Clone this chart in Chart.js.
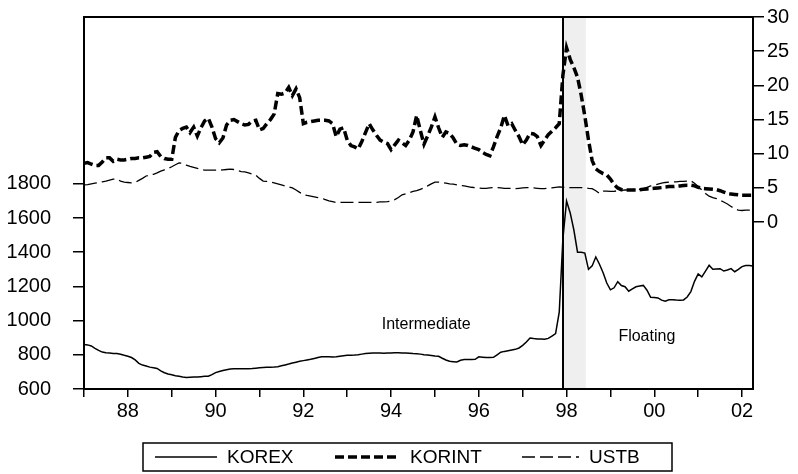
<!DOCTYPE html>
<html lang="en">
<head>
<meta charset="UTF-8">
<title>KOREX, KORINT and USTB</title>
<script src="https://cdn.jsdelivr.net/npm/chart.js"></script>
<style>
  html, body { margin: 0; padding: 0; background: #fff; }
  #wrap { width: 798px; height: 474px; }
</style>
</head>
<body>
<div id="wrap"><canvas id="chart" width="798" height="474"></canvas></div>
<script>
// monthly observations, 1987:01 to 2002:04
const startYear = 1987;

// won per dollar (left axis)
const korex = [
  860, 858, 852, 838, 826, 816, 812, 810, 808, 807, 803, 797,
  792, 784, 770, 750, 740, 734, 728, 724, 720, 706, 695, 688,
  683, 678, 674, 670, 668, 669, 670, 670, 672, 674, 675, 684,
  696, 702, 708, 713, 717, 719, 719, 719, 719, 719, 720, 722,
  724, 726, 727, 727, 728, 730, 736, 741, 746, 752, 757, 762,
  766, 770, 774, 779, 784, 789, 789, 788, 787, 788, 792, 795,
  797, 798, 799, 801, 804, 807, 809, 811, 810, 810, 809, 810,
  811, 812, 812, 811, 810, 809, 807, 806, 804, 801, 799, 796,
  793, 791, 780, 770, 762, 760, 758, 768, 772, 772, 773, 774,
  788, 786, 784, 784, 785, 800, 815, 820, 824, 828, 832, 840,
  855, 875, 898, 895, 893, 892, 891, 896, 910, 924, 1050, 1480,
  1700, 1630, 1530, 1400, 1400, 1395, 1300, 1320, 1372, 1330, 1280, 1220,
  1180, 1192, 1228, 1205, 1198, 1172, 1186, 1198, 1202, 1206, 1178, 1136,
  1135, 1133, 1120, 1113, 1122, 1122, 1120, 1119, 1121, 1138, 1170, 1230,
  1273, 1256, 1290, 1324, 1300, 1302, 1304, 1290, 1296, 1304, 1286, 1300,
  1316, 1322, 1322, 1320
];

// Korean interest rate, % (right axis)
const korint = [
  8.6, 8.7, 8.5, 8.3, 8.3, 8.8, 9.4, 9.4, 8.9, 9.2, 9.1, 9.1,
  9.2, 9.3, 9.3, 9.4, 9.4, 9.5, 9.6, 10.2, 10.3, 9.6, 9.3, 9.2,
  9.2, 12.4, 13.4, 13.7, 13.9, 13.1, 13.9, 12.6, 13.8, 14.8, 15.2, 13.9,
  12.2, 11.6, 12.3, 14.2, 14.9, 15.0, 14.7, 14.4, 14.2, 14.3, 14.8, 14.9,
  13.5, 13.7, 14.4, 15.0, 15.8, 18.8, 18.7, 18.9, 19.7, 18.5, 19.5, 18.2,
  14.4, 14.6, 14.7, 14.8, 14.9, 14.9, 14.9, 14.8, 14.4, 12.5, 13.6, 13.8,
  12.0, 11.2, 11.0, 10.7, 11.8, 13.1, 14.4, 13.5, 12.7, 12.0, 11.7, 11.5,
  10.6, 11.3, 12.0, 11.6, 11.2, 12.0, 13.2, 15.6, 13.4, 11.4, 12.6, 13.9,
  15.4, 13.8, 12.4, 13.2, 13.0, 12.3, 11.4, 11.2, 11.3, 11.2, 11.0, 10.8,
  10.6, 10.2, 9.9, 9.7, 11.0, 12.5, 13.8, 15.6, 14.1, 14.4, 13.4, 12.5,
  11.3, 12.0, 13.0, 12.9, 12.5, 11.2, 12.0, 12.8, 13.3, 13.8, 14.4, 21.5,
  25.5, 23.8, 22.6, 21.2, 18.6, 15.5, 12.0, 9.0, 7.8, 7.4, 7.1, 6.9,
  6.3, 5.5, 5.0, 4.75, 4.7, 4.7, 4.7, 4.7, 4.75, 4.8, 4.85, 4.9,
  4.95, 5.0, 5.05, 5.15, 5.2, 5.2, 5.25, 5.3, 5.35, 5.4, 5.4, 5.3,
  5.1, 4.95, 4.9, 4.85, 4.8, 4.75, 4.6, 4.4, 4.2, 4.1, 4.05, 4.0,
  3.95, 3.95, 3.95, 3.95
];

// US treasury bill rate, % (right axis)
const ustb = [
  5.45, 5.5, 5.6, 5.7, 5.8, 5.9, 6.0, 6.15, 6.3, 6.3, 6.0, 5.85,
  5.8, 5.75, 5.8, 6.1, 6.4, 6.75, 6.9, 7.0, 7.2, 7.45, 7.65, 7.85,
  8.1, 8.4, 8.65, 8.6, 8.35, 8.15, 8.0, 7.85, 7.7, 7.6, 7.6, 7.6,
  7.6, 7.6, 7.65, 7.7, 7.75, 7.7, 7.55, 7.4, 7.35, 7.2, 7.05, 6.85,
  6.4, 6.0, 5.95, 5.85, 5.75, 5.6, 5.45, 5.3, 5.15, 5.0, 4.7, 4.35,
  4.05, 3.9, 3.8, 3.7, 3.6, 3.5, 3.3, 3.1, 3.0, 2.85, 2.9, 2.9,
  2.9, 2.9, 2.9, 2.9, 2.9, 2.9, 2.9, 2.9, 2.9, 2.95, 2.95, 3.0,
  3.1, 3.3, 3.6, 4.0, 4.15, 4.3, 4.5, 4.6, 4.8, 5.0, 5.3, 5.6,
  5.85, 5.85, 5.8, 5.7, 5.6, 5.55, 5.45, 5.35, 5.3, 5.2, 5.1, 5.05,
  5.0, 4.95, 4.95, 5.0, 5.05, 5.05, 5.0, 4.95, 4.95, 4.95, 4.9, 4.95,
  5.0, 5.05, 5.05, 5.0, 4.95, 4.9, 4.9, 4.95, 5.0, 5.1, 5.15, 5.1,
  5.05, 5.05, 5.05, 5.05, 5.05, 5.05, 4.95, 4.9, 4.6, 4.2, 4.55, 4.55,
  4.5, 4.5, 4.6, 4.65, 4.7, 4.7, 4.75, 4.8, 4.8, 4.9, 5.1, 5.3,
  5.4, 5.55, 5.7, 5.8, 5.85, 5.9, 5.9, 5.95, 5.95, 6.0, 6.05, 5.7,
  5.2, 4.7, 4.2, 3.8, 3.6, 3.45, 3.2, 2.95, 2.65, 2.3, 1.95, 1.75,
  1.7, 1.75, 1.75, 1.75
];

const months = korex.map((_, i) => startYear + i / 12);
const yearTicks = [1987, 1988, 1989, 1990, 1991, 1992, 1993, 1994, 1995, 1996, 1997, 1998, 1999, 2000, 2001, 2002];
const leftTicks = [600, 800, 1000, 1200, 1400, 1600, 1800];
const rightTicks = [0, 5, 10, 15, 20, 25, 30];

// regime change: vertical line at 1997:12, grey band up to mid 1998
const regimeLine = 1997 + 11 / 12;
const bandEnd = 1998.44;
const notes = [
  { text: 'Intermediate', x: 1994.8, y: 979 },
  { text: 'Floating', x: 1999.83, y: 908 }
];
const legendItems = [
  { label: 'KOREX', width: 1.5, dash: [] },
  { label: 'KORINT', width: 3.5, dash: [9, 4] },
  { label: 'USTB', width: 1.3, dash: [13, 5] }
];

const FONT = '"Liberation Sans", Arial, sans-serif';

const regimePlugin = {
  id: 'regime',
  beforeDatasetsDraw(chart) {
    const { ctx, chartArea: a, scales: { x } } = chart;
    ctx.save();
    ctx.fillStyle = '#efefef';
    const x0 = x.getPixelForValue(regimeLine), x1 = x.getPixelForValue(bandEnd);
    ctx.fillRect(x0, a.top, x1 - x0, a.bottom - a.top);
    ctx.restore();
  },
  afterDatasetsDraw(chart) {
    const { ctx, chartArea: a, scales: { x, y } } = chart;
    ctx.save();
    ctx.strokeStyle = '#000';
    ctx.lineWidth = 2;
    const xl = Math.round(x.getPixelForValue(regimeLine));
    ctx.beginPath();
    ctx.moveTo(xl, a.top);
    ctx.lineTo(xl, a.bottom);
    ctx.stroke();
    // plot frame
    ctx.strokeRect(a.left, a.top, a.right - a.left, a.bottom - a.top);
    // regime labels
    ctx.fillStyle = '#000';
    ctx.font = '16px ' + FONT;
    ctx.textAlign = 'center';
    ctx.textBaseline = 'middle';
    notes.forEach(n => ctx.fillText(n.text, x.getPixelForValue(n.x), y.getPixelForValue(n.y)));
    ctx.restore();
  },
  afterDraw(chart) {
    // boxed legend under the x axis
    const ctx = chart.ctx;
    const box = { left: 143, top: 443, right: 672, bottom: 471 };
    const starts = [155, 335, 522];
    const lens = [62, 65, 57];
    const midY = (box.top + box.bottom) / 2;
    ctx.save();
    ctx.strokeStyle = '#000';
    ctx.lineWidth = 1.5;
    ctx.strokeRect(box.left, box.top, box.right - box.left, box.bottom - box.top);
    ctx.font = '19px ' + FONT;
    ctx.textBaseline = 'middle';
    ctx.textAlign = 'left';
    ctx.fillStyle = '#000';
    legendItems.forEach((it, i) => {
      ctx.lineWidth = it.width;
      ctx.setLineDash(it.dash);
      ctx.beginPath();
      ctx.moveTo(starts[i], midY);
      ctx.lineTo(starts[i] + lens[i], midY);
      ctx.stroke();
      ctx.setLineDash([]);
      ctx.fillText(it.label, starts[i] + lens[i] + 10, midY + 1);
    });
    ctx.restore();
  }
};

const tickFont = { family: FONT, size: 20 };
const noPad = s => { s.paddingTop = 0; s.paddingBottom = 0; };

new Chart(document.getElementById('chart'), {
  type: 'line',
  data: {
    labels: months,
    datasets: [
      { label: 'KOREX', data: korex, yAxisID: 'y', borderColor: '#000', borderWidth: 1.5 },
      { label: 'KORINT', data: korint, yAxisID: 'y1', borderColor: '#000', borderWidth: 3.5, borderDash: [9, 4] },
      { label: 'USTB', data: ustb, yAxisID: 'y1', borderColor: '#000', borderWidth: 1.3, borderDash: [13, 5] }
    ]
  },
  options: {
    responsive: false,
    animation: false,
    devicePixelRatio: 1,
    elements: { point: { radius: 0 }, line: { tension: 0, fill: false } },
    layout: { padding: { top: 17, left: 0, right: 0, bottom: 0 } },
    plugins: { legend: { display: false }, tooltip: { enabled: false } },
    scales: {
      x: {
        type: 'linear',
        min: 1987,
        max: 2002.25,
        afterBuildTicks: s => { s.ticks = yearTicks.map(v => ({ value: v })); },
        afterFit: s => { s.height = 85; s.paddingLeft = 0; s.paddingRight = 0; },
        grid: { drawOnChartArea: false, drawTicks: true, tickLength: 8, color: '#000', lineWidth: 1.5 },
        border: { display: true, color: '#000', width: 2 },
        ticks: {
          autoSkip: false, maxRotation: 0, padding: 2, color: '#000', font: tickFont,
          callback: v => (v % 2 === 0 ? String(v).slice(2) : '')
        }
      },
      y: {
        position: 'left',
        min: 600,
        max: 2776,
        afterBuildTicks: s => { s.ticks = leftTicks.map(v => ({ value: v })); },
        afterFit: s => { s.width = 84; noPad(s); },
        grid: { drawOnChartArea: false, drawTicks: true, tickLength: 11, color: '#000', lineWidth: 1.5 },
        border: { display: true, color: '#000', width: 2 },
        ticks: { padding: 22, color: '#000', font: tickFont, callback: v => String(v) }
      },
      y1: {
        position: 'right',
        min: -24.4,
        max: 30,
        afterBuildTicks: s => { s.ticks = rightTicks.map(v => ({ value: v })); },
        afterFit: s => { s.width = 45; noPad(s); },
        grid: { drawOnChartArea: false, drawTicks: true, tickLength: 11, color: '#000', lineWidth: 1.5 },
        border: { display: true, color: '#000', width: 2 },
        ticks: { padding: 3, color: '#000', font: tickFont, callback: v => String(v) }
      }
    }
  },
  plugins: [regimePlugin]
});
</script>
</body>
</html>
